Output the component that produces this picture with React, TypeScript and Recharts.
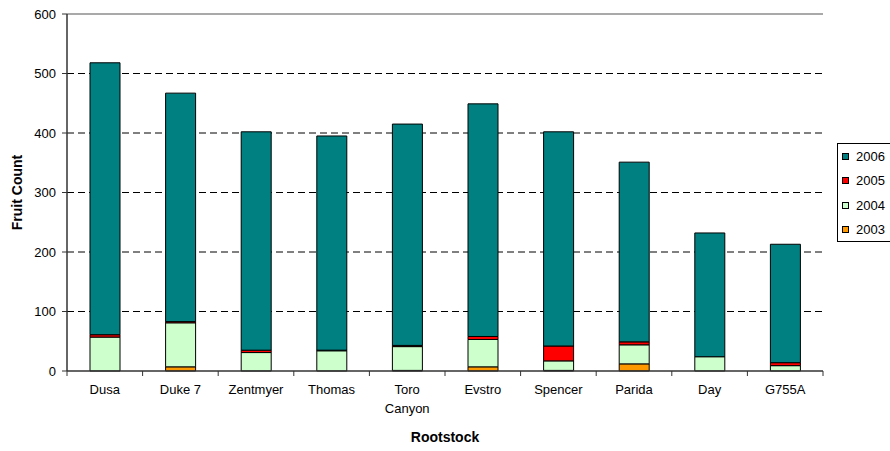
import React from 'react';
import {
  BarChart,
  Bar,
  XAxis,
  YAxis,
  CartesianGrid,
  ReferenceLine,
  Legend,
  Label,
  Text,
} from 'recharts';

// Fruit counts per rootstock, split by harvest season
const rootstocks = ['Dusa', 'Duke 7', 'Zentmyer', 'Thomas', 'Toro Canyon', 'Evstro', 'Spencer', 'Parida', 'Day', 'G755A'];
const count2003 = [0, 7, 0, 0, 1, 7, 1, 12, 0, 0];
const count2004 = [57, 74, 31, 34, 40, 46, 16, 32, 24, 9];
const count2005 = [4, 2, 4, 1, 2, 5, 25, 5, 0, 5];
const count2006 = [457, 384, 367, 360, 372, 391, 360, 302, 208, 199];
const yTicks = [0, 100, 200, 300, 400, 500, 600];
const gridValues = [100, 200, 300, 400, 500];

const seasons = ['2003', '2004', '2005', '2006'];
const seasonColors: Record<string, string> = {
  '2003': '#FF9900',
  '2004': '#CCFFCC',
  '2005': '#FF0000',
  '2006': '#008080',
};

const data = rootstocks.map((name, i) => ({
  name,
  '2003': count2003[i],
  '2004': count2004[i],
  '2005': count2005[i],
  '2006': count2006[i],
}));

const WIDTH = 890;
const HEIGHT = 451;
const MARGIN = { top: 14, right: 67, bottom: 0, left: 0 };
const Y_AXIS_WIDTH = 67;
const X_AXIS_HEIGHT = 80;
const TICK_SIZE = 5;
const X_TICK_MARGIN = 9;
const BAND = (WIDTH - MARGIN.right - Y_AXIS_WIDTH) / rootstocks.length;
const FONT = '"Liberation Sans", Arial, sans-serif';
const AXIS_COLOR = '#333333';

const CategoryTick = (props: any) => {
  const { x, y, payload, index } = props;
  const axisY = y - TICK_SIZE - X_TICK_MARGIN;
  const half = BAND / 2;
  return (
    <g>
      <line x1={x - half} x2={x - half} y1={axisY} y2={axisY + TICK_SIZE} stroke={AXIS_COLOR} />
      {index === rootstocks.length - 1 && (
        <line x1={x + half} x2={x + half} y1={axisY} y2={axisY + TICK_SIZE} stroke={AXIS_COLOR} />
      )}
      <Text
        x={x}
        y={y}
        width={62}
        textAnchor="middle"
        verticalAnchor="start"
        lineHeight={19}
        fontSize={13}
        fontFamily={FONT}
        fill="#000"
      >
        {payload.value}
      </Text>
    </g>
  );
};

const SeasonLegend = (props: any) => {
  const items = [...(props.payload || [])].reverse();
  return (
    <div
      style={{
        width: 52,
        height: 97,
        borderTop: '1px solid #000',
        borderBottom: '1px solid #000',
        borderLeft: '1px solid #000',
        background: '#fff',
        fontFamily: FONT,
        fontSize: 13,
        color: '#000',
      }}
    >
      {items.map((item: any) => (
        <div
          key={item.value}
          style={{ height: 24.5, display: 'flex', alignItems: 'center', paddingLeft: 4 }}
        >
          <span
            style={{
              display: 'inline-block',
              width: 5,
              height: 5,
              border: '1px solid #000',
              background: item.color,
              marginRight: 7,
            }}
          />
          <span style={{ lineHeight: '13px' }}>{item.value}</span>
        </div>
      ))}
    </div>
  );
};

export default function App() {
  return (
    <div style={{ position: 'absolute', left: 0, top: 0, width: WIDTH, height: HEIGHT, background: '#fff' }}>
      <BarChart width={WIDTH} height={HEIGHT} data={data} margin={MARGIN}>
        <CartesianGrid
          vertical={false}
          horizontalValues={gridValues}
          stroke="#000"
          strokeDasharray="7 4"
        />
        <ReferenceLine y={600} stroke="#8c8c8c" strokeWidth={1.5} />
        <XAxis
          dataKey="name"
          height={X_AXIS_HEIGHT}
          tickLine={false}
          tickSize={TICK_SIZE}
          tickMargin={X_TICK_MARGIN}
          axisLine={{ stroke: AXIS_COLOR, strokeWidth: 1.5 }}
          tick={<CategoryTick />}
          interval={0}
        >
          <Label
            content={(p: any) => {
              const vb = p.viewBox || {};
              return (
                <text
                  x={vb.x + vb.width / 2}
                  y={vb.y + 71}
                  textAnchor="middle"
                  fontFamily={FONT}
                  fontSize={14}
                  fontWeight="bold"
                  fill="#000"
                >
                  Rootstock
                </text>
              );
            }}
          />
        </XAxis>
        <YAxis
          width={Y_AXIS_WIDTH}
          domain={[0, 600]}
          ticks={yTicks}
          interval={0}
          tickSize={TICK_SIZE}
          tickMargin={6}
          tick={{ fontSize: 13, fontFamily: FONT, fill: '#000' }}
          tickLine={{ stroke: AXIS_COLOR }}
          axisLine={{ stroke: AXIS_COLOR, strokeWidth: 1.5 }}
        >
          <Label
            content={(p: any) => {
              const vb = p.viewBox || {};
              const cx = vb.x + 17;
              const cy = vb.y + vb.height / 2;
              return (
                <text
                  x={cx}
                  y={cy}
                  transform={`rotate(-90, ${cx}, ${cy})`}
                  textAnchor="middle"
                  dominantBaseline="central"
                  fontFamily={FONT}
                  fontSize={14}
                  fontWeight="bold"
                  fill="#000"
                >
                  Fruit Count
                </text>
              );
            }}
          />
        </YAxis>
        <YAxis
          yAxisId="frame"
          orientation="right"
          width={0}
          domain={[0, 600]}
          tick={false}
          tickLine={false}
          axisLine={{ stroke: '#8c8c8c', strokeWidth: 1.5 }}
        />
        <Legend
          layout="vertical"
          align="center"
          verticalAlign="middle"
          content={<SeasonLegend />}
          wrapperStyle={{ position: 'absolute', left: 837, top: 143, width: 53 }}
        />
        {seasons.map((s) => (
          <Bar
            key={s}
            dataKey={s}
            name={s}
            stackId="a"
            fill={seasonColors[s]}
            stroke="#000"
            strokeWidth={1}
            barSize={30}
            isAnimationActive={false}
          />
        ))}
      </BarChart>
    </div>
  );
}
